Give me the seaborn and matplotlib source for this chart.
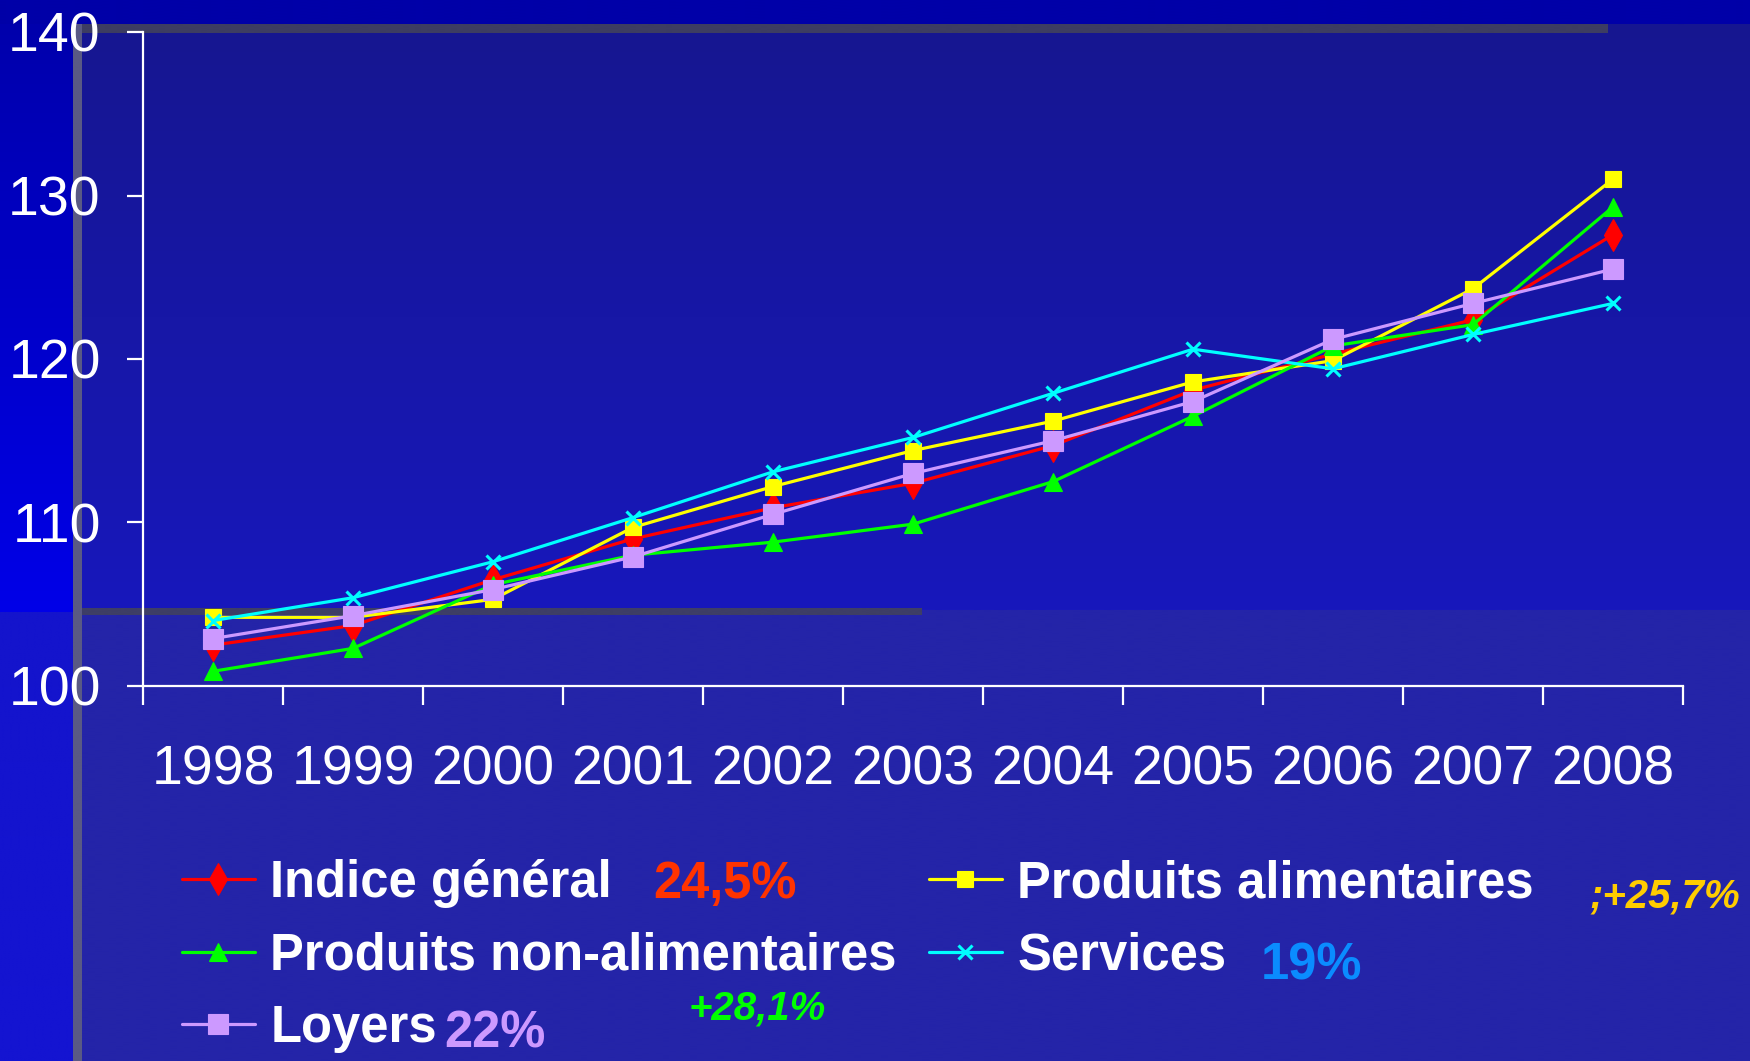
import numpy as np
import pandas as pd
import matplotlib
matplotlib.use("Agg")
import matplotlib.pyplot as plt
import seaborn as sns
from matplotlib import font_manager
from matplotlib.colors import to_rgb
from matplotlib.lines import Line2D

# Data: consumer price indices, base 100 = 1998 area
years = ["1998", "1999", "2000", "2001", "2002", "2003", "2004", "2005", "2006", "2007", "2008"]
indice_general = [102.5, 103.7, 106.5, 109.0, 110.9, 112.4, 114.7, 118.1, 120.3, 122.4, 127.6]
produits_alimentaires = [104.2, 104.2, 105.3, 109.7, 112.2, 114.4, 116.2, 118.6, 119.9, 124.3, 131.0]
produits_non_alimentaires = [100.9, 102.3, 106.2, 108.0, 108.8, 109.9, 112.5, 116.5, 120.8, 122.1, 129.3]
services = [104.0, 105.4, 107.6, 110.3, 113.1, 115.2, 117.9, 120.6, 119.4, 121.5, 123.4]
loyers = [102.9, 104.3, 105.9, 107.9, 110.5, 113.0, 115.0, 117.4, 121.2, 123.4, 125.5]
y_ticks = [100, 110, 120, 130, 140]

SERIES = [
    ("Indice général", indice_general, "#FF0000", "d", 16),
    ("Produits alimentaires", produits_alimentaires, "#FFFF00", "s", 12),
    ("Produits non-alimentaires", produits_non_alimentaires, "#00FF00", "^", 13),
    ("Services", services, "#00FFFF", "x", 10),
    ("Loyers", loyers, "#CC99FF", "s", 15),
]

sns.set_theme(style="ticks")
names = {f.name for f in font_manager.fontManager.ttflist}
NARROW = "Liberation Sans Narrow" in names
FONT = "Liberation Sans Narrow" if NARROW else "Liberation Sans"
K = 1.0 if NARROW else 0.85
plt.rcParams["font.family"] = [FONT, "DejaVu Sans"]

W, H = 1750, 1061
fig = plt.figure(figsize=(W / 100, H / 100), dpi=100)

# slide background
bg = fig.add_axes([0, 0, 1, 1], zorder=-10)
bg.axis("off")


def vgrad(x0, x1, y0, y1, c_top, c_bot):
    t = np.linspace(0, 1, 256)[:, None, None]
    a = np.array(to_rgb(c_top))[None, None, :]
    b = np.array(to_rgb(c_bot))[None, None, :]
    bg.imshow(a + (b - a) * t, extent=(x0, x1, y1, y0), aspect="auto",
              origin="upper", interpolation="bilinear")


vgrad(0, W, 0, H, "#2424A8", "#2424A8")
vgrad(0, W, 0, 24, "#0000A8", "#0000A8")
vgrad(0, 73, 24, 612, "#0000AC", "#0000E8")
vgrad(0, 73, 612, H, "#1414CC", "#1414D2")
vgrad(82, W, 24, 610, "#161690", "#1818BC")
vgrad(73, 82, 24, H, "#5A5A84", "#5A5A84")
vgrad(82, 1608, 24, 33, "#3D3D62", "#3D3D62")
vgrad(82, 922, 608, 615, "#3E3E66", "#3E3E66")
bg.set_xlim(0, W)
bg.set_ylim(H, 0)

# chart
ax = fig.add_axes([143 / W, 1 - 686 / H, (1683 - 143) / W, (686 - 32) / H])
ax.set_facecolor("none")
pos = np.arange(len(years))

for name, vals, color, marker, ms in SERIES:
    sns.lineplot(x=pos, y=vals, ax=ax, color=color, marker=marker, markersize=ms,
                 markeredgecolor=color, markeredgewidth=2.2 if marker == "x" else 0.8,
                 linewidth=2.3, clip_on=False)

ax.set_xlim(-0.5, len(years) - 0.5)
ax.set_ylim(100, 140)
ax.set_yticks(y_ticks)
ax.set_xticks(pos)
ax.set_xticklabels(years)
ax.set_xticks(np.arange(-0.5, len(years)), minor=True)
ax.set_xlabel("")
ax.set_ylabel("")
for side in ["top", "right"]:
    ax.spines[side].set_visible(False)
for side in ["left", "bottom"]:
    ax.spines[side].set_color("white")
    ax.spines[side].set_linewidth(1.6)
ax.tick_params(axis="x", which="major", length=0, pad=42, colors="white",
               labelsize=47 * K)
ax.tick_params(axis="x", which="minor", length=14, width=1.6, color="white")
ax.tick_params(axis="y", length=11.5, width=1.6, pad=19, colors="white",
               labelsize=47 * K)

# legend, two pinned columns
handles = {name: Line2D([], [], color=c, marker=m, markersize=ms, markeredgecolor=c,
                        markeredgewidth=2.2 if m == "x" else 0.8, linewidth=2.3)
           for name, _, c, m, ms in SERIES}
leg_kw = dict(loc="upper left", frameon=False, borderpad=0, borderaxespad=0,
              handlelength=1.43, handletextpad=0.31, labelspacing=0.46,
              labelcolor="white",
              prop=dict(family=[FONT, "DejaVu Sans"], weight="bold", size=43 * K))
col1 = ["Indice général", "Produits non-alimentaires", "Loyers"]
col2 = ["Produits alimentaires", "Services"]
fig.legend([handles[n] for n in col1], col1, bbox_to_anchor=(182 / W, 1 - 859 / H), **leg_kw)
fig.legend([handles[n] for n in col2], col2, bbox_to_anchor=(929 / W, 1 - 859 / H), **leg_kw)

# percentage annotations
def note(x, y, s, color, style="normal", size=43, va="center"):
    fig.text(x / W, 1 - y / H, s, color=color, fontsize=size * K, fontweight="bold",
             fontstyle=style, ha="left", va=va, family=[FONT, "DejaVu Sans"])


note(653, 884, "24,5%", "#FF3300")
note(1590, 897, ";+25,7%", "#FFCC00", "italic", 34)
note(1261, 966, "19%", "#0A8CFF")
note(689, 1009, "+28,1%", "#00FF00", "italic", 34)
note(444, 1059, "22%", "#CC99FF", va="bottom")

fig.savefig("out.png", dpi=100)
plt.close(fig)
